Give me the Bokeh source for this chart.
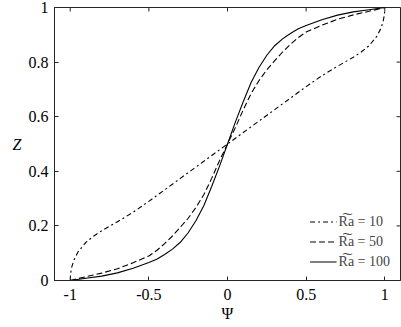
import math
from bokeh.plotting import figure
from bokeh.models import Range1d, FixedTicker, Label
from bokeh.embed import file_html
from bokeh.resources import INLINE

# ---- data ----
psi_10 = [-1, -0.998, -0.99, -0.975, -0.95, -0.9, -0.85, -0.8, -0.7, -0.6, -0.5, -0.4, -0.3, -0.2, -0.1, 0,
          0.1, 0.2, 0.3, 0.4, 0.5, 0.6, 0.7, 0.8, 0.85, 0.9, 0.95, 0.975, 0.99, 0.998, 1]
z_10 = [0, 0.025, 0.05, 0.077, 0.105, 0.14, 0.163, 0.182, 0.215, 0.25, 0.29, 0.332, 0.374, 0.416, 0.458, 0.5,
        0.542, 0.584, 0.626, 0.668, 0.71, 0.75, 0.785, 0.818, 0.837, 0.86, 0.895, 0.923, 0.95, 0.975, 1]

psi_hi = [-1, -0.9, -0.8, -0.7, -0.6, -0.5, -0.45, -0.4, -0.35, -0.3, -0.25, -0.2, -0.15, -0.1, -0.05, 0,
          0.05, 0.1, 0.15, 0.2, 0.25, 0.3, 0.35, 0.4, 0.45, 0.5, 0.6, 0.7, 0.8, 0.9, 1]
z_50 = [0, 0.014, 0.027, 0.043, 0.065, 0.09, 0.11, 0.135, 0.163, 0.195, 0.228, 0.268, 0.315, 0.375, 0.44, 0.5,
        0.56, 0.625, 0.685, 0.732, 0.772, 0.805, 0.837, 0.865, 0.89, 0.91, 0.935, 0.957, 0.973, 0.986, 1]
z_100 = [0, 0.008, 0.016, 0.028, 0.045, 0.066, 0.078, 0.095, 0.115, 0.14, 0.175, 0.22, 0.275, 0.345, 0.42, 0.5,
         0.58, 0.655, 0.725, 0.78, 0.825, 0.86, 0.885, 0.905, 0.922, 0.934, 0.955, 0.972, 0.984, 0.992, 1]

series_labels = ["R\u0360a = 10", "R\u0360a = 50", "R\u0360a = 100"]

x_ticks = [-1, -0.5, 0, 0.5, 1]
x_tick_labels = ["-1", "-0.5", "0", "0.5", "1"]
y_ticks = [0, 0.2, 0.4, 0.6, 0.8, 1]
y_tick_labels = ["0", "0.2", "0.4", "0.6", "0.8", "1"]
x_lim = (-1.1, 1.1)
y_lim = (0, 1)

FONT = "Liberation Serif"
AX = "#262626"

p = figure(width=401, height=327, output_backend="svg", toolbar_location=None,
           x_range=Range1d(*x_lim), y_range=Range1d(*y_lim),
           min_border_left=54, min_border_right=1, min_border_top=7, min_border_bottom=47)
p.grid.visible = False
p.outline_line_color = AX
p.background_fill_color = "white"

p.line(psi_10, z_10, line_color="black", line_width=1.1, line_dash="5 3 2 3",
       legend_label=series_labels[0])
p.line(psi_hi, z_50, line_color="black", line_width=1.1, line_dash="6 3",
       legend_label=series_labels[1])
p.line(psi_hi, z_100, line_color="black", line_width=1.1,
       legend_label=series_labels[2])

# mirrored ticks on the top and right edges of the box
p.scatter(x=x_ticks, y=[y_lim[1]] * len(x_ticks), marker="dash", size=8, angle=math.pi / 2,
          line_color=AX, line_width=1)
p.scatter(x=[x_lim[1]] * len(y_ticks), y=y_ticks, marker="dash", size=8,
          line_color=AX, line_width=1)

p.xaxis.ticker = FixedTicker(ticks=x_ticks)
p.yaxis.ticker = FixedTicker(ticks=y_ticks)
p.xaxis.major_label_overrides = {t: l for t, l in zip(x_ticks, x_tick_labels)}
p.yaxis.major_label_overrides = {t: l for t, l in zip(y_ticks, y_tick_labels)}

for axs in (p.xaxis, p.yaxis):
    axs.axis_line_color = AX
    axs.major_tick_line_color = AX
    axs.major_tick_in = 4
    axs.major_tick_out = 0
    axs.minor_tick_line_color = None
    axs.major_label_text_font = FONT
    axs.major_label_text_font_size = "16px"
    axs.major_label_text_color = "black"
    axs.axis_label_text_font = FONT
    axs.axis_label_text_font_size = "16px"
    axs.axis_label_text_color = "black"

p.xaxis.major_label_standoff = 8
p.xaxis.axis_label = "\u03a8"
p.xaxis.axis_label_text_font_style = "normal"
p.xaxis.axis_label_standoff = 2

p.yaxis.major_label_standoff = 6

placed = False
try:
    p.yaxis[0].axis_label_orientation = "horizontal"
    p.yaxis.axis_label = "Z"
    p.yaxis.axis_label_text_font_style = "italic"
    p.yaxis.axis_label_standoff = 4
    placed = True
except Exception:
    placed = False
if not placed:
    p.add_layout(Label(x=18, y=327 - 47 - 140, x_units="screen", y_units="screen", text="Z",
                       text_font=FONT, text_font_style="italic", text_font_size="16px",
                       text_align="center", text_baseline="middle"))

lg = p.legend[0]
lg.location = "bottom_right"
lg.border_line_alpha = 0
lg.background_fill_alpha = 0
lg.label_text_font = FONT
lg.label_text_font_size = "14px"
lg.glyph_width = 27
lg.glyph_height = 17
lg.label_height = 17
lg.spacing = 3
lg.label_standoff = 2
lg.padding = 4
lg.margin = 6

open("out.html", "w").write(file_html(p, INLINE))
